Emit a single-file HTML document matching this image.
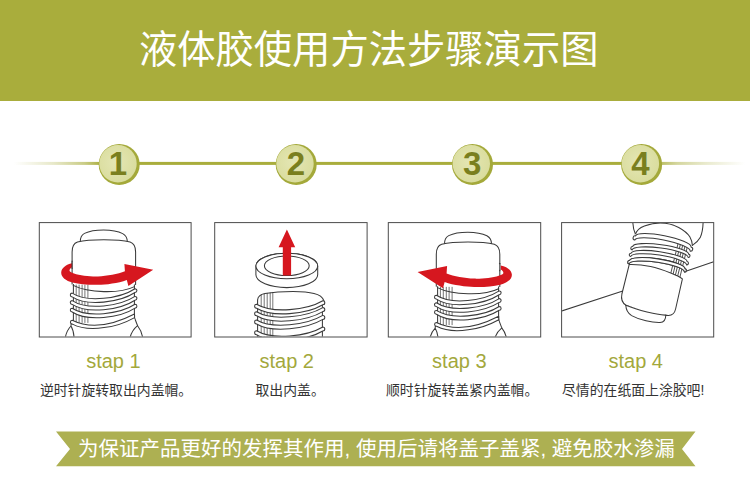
<!DOCTYPE html>
<html lang="zh-CN">
<head>
<meta charset="utf-8">
<title>液体胶使用方法步骤演示图</title>
<style>
html,body{margin:0;padding:0;background:#fff;}
body{width:750px;height:491px;overflow:hidden;font-family:"Liberation Sans",sans-serif;}
#page{position:relative;width:750px;height:491px;overflow:hidden;background:#fff;}
.band{position:absolute;left:0;top:0;width:750px;height:100.5px;background:#a9ad3c;}
.t{position:absolute;margin:0;padding:0;color:transparent;white-space:nowrap;font-weight:normal;line-height:1;overflow:hidden;}
svg.art{position:absolute;left:0;top:0;width:750px;height:491px;display:block;}
.ln{fill:none;stroke:#3a3a3a;stroke-width:1.05;stroke-linejoin:round;stroke-linecap:round;}
svg.art text{font-family:"Liberation Sans","Noto Sans CJK SC",sans-serif;}
</style>
</head>
<body>
<div id="page">
<header class="band"></header>

<svg class="art" viewBox="0 0 750 491" width="750" height="491">
<defs>
<linearGradient id="gl" x1="0" x2="1" y1="0" y2="0"><stop offset="0" stop-color="#a9ad3c" stop-opacity="0"/><stop offset="0.45" stop-color="#a9ad3c" stop-opacity="0.28"/><stop offset="0.8" stop-color="#a9ad3c" stop-opacity="0.62"/><stop offset="1" stop-color="#a9ad3c" stop-opacity="1"/></linearGradient>
<linearGradient id="gr" x1="0" x2="1" y1="0" y2="0"><stop offset="0" stop-color="#a9ad3c" stop-opacity="0.8"/><stop offset="0.2" stop-color="#a9ad3c" stop-opacity="0.5"/><stop offset="0.55" stop-color="#a9ad3c" stop-opacity="0.25"/><stop offset="1" stop-color="#a9ad3c" stop-opacity="0"/></linearGradient>
<radialGradient id="gc" cx="0.45" cy="0.45" r="0.6"><stop offset="0" stop-color="#e4e6b4"/><stop offset="1" stop-color="#d9dc9c"/></radialGradient>
<clipPath id="c1"><rect x="39.8" y="223" width="151" height="113.6"/></clipPath>
<clipPath id="c2"><rect x="215.2" y="223" width="151.4" height="113.6"/></clipPath>
<clipPath id="c3"><rect x="388.8" y="223" width="151.4" height="113.6"/></clipPath>
<clipPath id="c4"><rect x="562.1" y="223" width="151.2" height="113.6"/></clipPath>
</defs>
<text x="368.7" y="62.5" font-size="38.3" fill="#fff" text-anchor="middle">液体胶使用方法步骤演示图</text>
<rect x="14" y="161.9" width="88" height="3" fill="url(#gl)"/>
<rect x="100" y="161.9" width="560" height="3" fill="#a9ad3c"/>
<rect x="660" y="161.9" width="85" height="3" fill="url(#gr)"/>
<circle cx="119.2" cy="164.4" r="20.5" fill="#a4a93a"/>
<circle cx="118" cy="163.7" r="18.7" fill="url(#gc)"/>
<text x="118" y="175.1" font-size="33" font-weight="bold" fill="#7a7f1e" text-anchor="middle">1</text>
<circle cx="296.2" cy="164.4" r="20.5" fill="#a4a93a"/>
<circle cx="295" cy="163.7" r="18.7" fill="url(#gc)"/>
<text x="296" y="175.1" font-size="33" font-weight="bold" fill="#7a7f1e" text-anchor="middle">2</text>
<circle cx="472.5" cy="164.4" r="20.5" fill="#a4a93a"/>
<circle cx="471.3" cy="163.7" r="18.7" fill="url(#gc)"/>
<text x="472.3" y="175.1" font-size="33" font-weight="bold" fill="#7a7f1e" text-anchor="middle">3</text>
<circle cx="641.6" cy="164.4" r="20.5" fill="#a4a93a"/>
<circle cx="640.4" cy="163.7" r="18.7" fill="url(#gc)"/>
<text x="640.4" y="175.1" font-size="33" font-weight="bold" fill="#7a7f1e" text-anchor="middle">4</text>
<g class="ln">
<g clip-path="url(#c1)"><g transform="translate(0,0)">
<path d="M71.6,323 C71.2,324 70.9,325 71,326 C68.4,328.6 66.2,332.6 65.2,338 M71,326 C72.8,329 73.8,333 74.1,338 M134.5,317.6 C135.6,320.6 136.6,323.4 137.6,325.7 C140.2,329 142,333 142.8,338 M137.6,325.7 C134,328.6 131.2,332.6 130,338"/>
<path d="M73.4,283 L73.4,326 L134.4,320 L134.4,283 Z" fill="#fff" stroke="none"/>
<path d="M73.4,283 L73.4,324 M134.4,283 L134.4,318"/>
<path d="M76.2,285 V322.5 M79.1,285 V322.5 M82.1,285 V322.5 M84.9,285 V322.5 M87.9,285 V322.5 " stroke-width="0.7"/>
<path d="M73.2,285.4 C87.89,292.87 119.71,294.07 134.4,286.6"/>
<path d="M72.2,293.1 C87.27,302.97 119.93,298.57 135,288.7 A1.9,1.9 0 0 1 135,292.5 C119.93,302.37 87.27,306.77 72.2,296.9 A1.9,1.9 0 0 1 72.2,293.1 Z" fill="#fff"/>
<path d="M72.2,300.6 C87.27,310.47 119.93,306.27 135,296.4 A1.9,1.9 0 0 1 135,300.2 C119.93,310.07 87.27,314.27 72.2,304.4 A1.9,1.9 0 0 1 72.2,300.6 Z" fill="#fff"/>
<path d="M72.2,308.2 C87.27,318.07 119.93,314.17 135,304.3 A1.9,1.9 0 0 1 135,308.1 C119.93,317.97 87.27,321.87 72.2,312 A1.9,1.9 0 0 1 72.2,308.2 Z" fill="#fff"/>
<path d="M72.2,320.3 C90,329 112,325.6 134.5,314 L134.6,317.6 C122,324.6 110,327 104,327.6 C92,329.4 80,328 72.4,324.1 A1.9,1.9 0 0 1 72.2,320.3 Z" fill="#fff"/>
<path d="M80.3,241.6 C80.3,237.5 81.5,235 84.5,233.4 C89,231.2 96,230 103.6,230 C111.2,230 118.2,231.3 122.7,233.6 C125.9,235.4 127.3,237.8 127.3,241.6" fill="#fff"/>
<path d="M72.1,284 L72.1,252 C72.1,246.5 73.6,243.4 77.5,242.1 C85,240.2 95,239.8 103.8,239.8 C112.6,239.8 122.6,240.2 130.1,242.1 C134,243.4 135.6,246.5 135.6,252 L135.6,284.4" fill="#fff"/>
<path d="M72.1,263.3 C66,264.6 61.4,268 61.2,272.4 C61,277.2 66,280.6 72.4,282.5 C80,284.6 89,285 98,284.8 C106,284.6 118,283.2 126.8,279.9 L128.4,286 L153.2,269.7 L124.4,263.9 L124.9,271.3 C118,274 107,276.2 98,276.4 C90,276.6 80,275.6 74,273.5 C71.2,272.5 69.4,271.6 69.5,270.6 C69.6,269.2 70.6,268 72.1,267.3 Z" fill="#d6171f" stroke="none"/>
<path d="M72.6,262 H80 V270.2 C77,269.6 74,268.6 72.6,267.4 Z" fill="#fff" stroke="none"/>
<path d="M72.1,261 V268.5"/>
</g></g>
<g clip-path="url(#c2)"><path d="M257.6,300 V338 M322.4,300 V338"/>
<path d="M257.6,306 V300 C257.8,296.5 260,294.6 265,293.6 C274,292 284,291.5 293,291.5 C301,291.6 309,292.2 314,293.4 C319,294.6 322.6,297 323.8,300.5 L324.4,304" fill="#fff"/>
<path d="M261.2,294.8 V338 M264.2,293.9 V338 M267.2,293.3 V338 M270.2,292.9 V338 M272.8,292.6 V338 " stroke-width="0.7"/>
<path d="M256.6,304.2 C272.49,313.67 306.91,310.27 322.8,300.8 A2,2 0 0 1 322.8,304.8 C306.91,314.27 272.49,317.67 256.6,308.2 A2,2 0 0 1 256.6,304.2 Z" fill="#fff"/>
<path d="M256.6,311.8 C272.49,321.27 306.91,317.07 322.8,307.6 A2,2 0 0 1 322.8,311.6 C306.91,321.07 272.49,325.27 256.6,315.8 A2,2 0 0 1 256.6,311.8 Z" fill="#fff"/>
<path d="M256.6,320 C272.49,329.47 306.91,324.87 322.8,315.4 A2,2 0 0 1 322.8,319.4 C306.91,328.87 272.49,333.47 256.6,324 A2,2 0 0 1 256.6,320 Z" fill="#fff"/>
<path d="M256.6,330.8 C272.49,340.27 306.91,336.47 322.8,327 A2,2 0 0 1 322.8,331 C306.91,340.47 272.49,344.27 256.6,334.8 A2,2 0 0 1 256.6,330.8 Z" fill="#fff"/>
<path d="M255.9,266 A30.9,12.8 0 0 1 317.7,266 V274.8 A30.9,12.8 0 0 1 255.9,274.8 Z" fill="#fff"/>
<ellipse cx="286.8" cy="266" rx="30.9" ry="12.8" fill="#fff"/>
<ellipse cx="286.8" cy="265.8" rx="22.4" ry="9.8" fill="#fff"/>
<path d="M282.8,275.4 V247.3 H278.6 L286.9,229.6 L295.2,247.3 H291.1 V275.4 A22.4,9.8 0 0 1 282.8,275.4 Z" fill="#d6171f" stroke="none"/></g>
<g clip-path="url(#c3)"><g transform="translate(364.2,2.2)">
<path d="M71.6,323 C71.2,324 70.9,325 71,326 C68.4,328.6 66.2,332.6 65.2,338 M71,326 C72.8,329 73.8,333 74.1,338 M134.5,317.6 C135.6,320.6 136.6,323.4 137.6,325.7 C140.2,329 142,333 142.8,338 M137.6,325.7 C134,328.6 131.2,332.6 130,338"/>
<path d="M73.4,283 L73.4,326 L134.4,320 L134.4,283 Z" fill="#fff" stroke="none"/>
<path d="M73.4,283 L73.4,324 M134.4,283 L134.4,318"/>
<path d="M76.2,285 V322.5 M79.1,285 V322.5 M82.1,285 V322.5 M84.9,285 V322.5 M87.9,285 V322.5 " stroke-width="0.7"/>
<path d="M73.2,285.4 C87.89,292.87 119.71,294.07 134.4,286.6"/>
<path d="M72.2,293.1 C87.27,302.97 119.93,298.57 135,288.7 A1.9,1.9 0 0 1 135,292.5 C119.93,302.37 87.27,306.77 72.2,296.9 A1.9,1.9 0 0 1 72.2,293.1 Z" fill="#fff"/>
<path d="M72.2,300.6 C87.27,310.47 119.93,306.27 135,296.4 A1.9,1.9 0 0 1 135,300.2 C119.93,310.07 87.27,314.27 72.2,304.4 A1.9,1.9 0 0 1 72.2,300.6 Z" fill="#fff"/>
<path d="M72.2,308.2 C87.27,318.07 119.93,314.17 135,304.3 A1.9,1.9 0 0 1 135,308.1 C119.93,317.97 87.27,321.87 72.2,312 A1.9,1.9 0 0 1 72.2,308.2 Z" fill="#fff"/>
<path d="M72.2,320.3 C90,329 112,325.6 134.5,314 L134.6,317.6 C122,324.6 110,327 104,327.6 C92,329.4 80,328 72.4,324.1 A1.9,1.9 0 0 1 72.2,320.3 Z" fill="#fff"/>
<path d="M80.3,241.6 C80.3,237.5 81.5,235 84.5,233.4 C89,231.2 96,230 103.6,230 C111.2,230 118.2,231.3 122.7,233.6 C125.9,235.4 127.3,237.8 127.3,241.6" fill="#fff"/>
<path d="M72.1,284 L72.1,252 C72.1,246.5 73.6,243.4 77.5,242.1 C85,240.2 95,239.8 103.8,239.8 C112.6,239.8 122.6,240.2 130.1,242.1 C134,243.4 135.6,246.5 135.6,252 L135.6,284.4" fill="#fff"/>
<g transform="translate(210.4,0) scale(-1.025,1)">
<path d="M72.1,263.3 C66,264.6 61.4,268 61.2,272.4 C61,277.2 66,280.6 72.4,282.5 C80,284.6 89,285 98,284.8 C106,284.6 118,283.2 126.8,279.9 L128.4,286 L153.2,269.7 L124.4,263.9 L124.9,271.3 C118,274 107,276.2 98,276.4 C90,276.6 80,275.6 74,273.5 C71.2,272.5 69.4,271.6 69.5,270.6 C69.6,269.2 70.6,268 72.1,267.3 Z" fill="#d6171f" stroke="none"/>
<path d="M72.6,262 H80 V270.2 C77,269.6 74,268.6 72.6,267.4 Z" fill="#fff" stroke="none"/>
</g>
<path d="M135.6,261 V268.5"/>
</g></g>
<g clip-path="url(#c4)"><path d="M561.6,311 L622.8,291 M686.6,270.9 L713.7,261.8"/>
<path d="M632.8,222 C633,227 634,231 635.3,233.8 M703.1,222 C703,229 702,233.6 700.2,237.6 C698.6,240.6 696,243 692.4,245.4"/>
<path d="M635.3,234.6 C636.6,230.4 640,227.6 644.4,226 C650,224 656,223 660.3,223 C667,223 673.6,224.8 678.7,227.5 C684,230.4 688,234 689.8,236.8 C691.4,239.6 692.2,242 692.4,245.4" fill="#fff"/>
<path d="M635.3,234 L629,264 L683,278 L692.4,246 Z" fill="#fff" stroke="none"/>
<path d="M678.2,243 L668.4,283 M680.5,243.9 L670.7,283.9 M682.8,244.8 L673,284.8 M685.1,245.7 L675.3,285.7 M687.4,246.6 L677.6,286.6 " stroke-width="0.9"/>
<path d="M635.62,235.89 A28.24,5.8 11.23 0 1 691.02,246.89 A2.15,2.15 0 0 1 690.18,251.11 A28.24,5.8 11.23 0 0 634.78,240.11 A2.15,2.15 0 0 1 635.62,235.89 Z" fill="#fff"/>
<path d="M632.63,246.52 A28.26,5.8 7.73 0 1 688.63,254.12 A1.7,1.7 0 0 1 688.17,257.48 A28.26,5.8 7.73 0 0 632.17,249.88 A1.7,1.7 0 0 1 632.63,246.52 Z" fill="#fff"/>
<path d="M631.15,253.22 A28.26,5.8 8.45 0 1 687.05,261.52 A1.7,1.7 0 0 1 686.55,264.88 A28.26,5.8 8.45 0 0 630.65,256.58 A1.7,1.7 0 0 1 631.15,253.22 Z" fill="#fff"/>
<path d="M629.65,260.52 A27.95,5.8 8.43 0 1 684.95,268.72 A1.7,1.7 0 0 1 684.45,272.08 A27.95,5.8 8.43 0 0 629.15,263.88 A1.7,1.7 0 0 1 629.65,260.52 Z" fill="#fff"/>
<path d="M629.2,264.6 L621.9,294 C620.8,299 621.8,302.6 626,305.2 C638,310.4 656,314.6 668,315.4 C672.6,315.6 674.6,313.6 675.6,309 L682.4,278.8 C680,277 676,275 671.3,273.2 C665,270.8 657,268 650.6,266.6 C643,265 636,264.4 629.2,264.6 Z" fill="#fff"/>
<path d="M629.65,260.52 A27.95,5.8 8.43 0 1 684.95,268.72 A1.7,1.7 0 0 1 684.45,272.08 A27.95,5.8 8.43 0 0 629.15,263.88 A1.7,1.7 0 0 1 629.65,260.52 Z" fill="#fff"/>
<path d="M625.8,305.2 C626,310 627.6,313 631.6,315.6 C640,320.2 652,322.6 660,322.4 C664.4,322.2 665.8,319.4 665.8,314.9" fill="#fff"/>
<path d="M626,305.2 C638,310.4 656,314.6 668,315.4" /></g>
</g>
<rect x="39.3" y="222.6" width="151.8" height="114.4" fill="none" stroke="#4c4c4c" stroke-width="1"/>
<rect x="214.7" y="222.6" width="152.4" height="114.4" fill="none" stroke="#4c4c4c" stroke-width="1"/>
<rect x="388.3" y="222.6" width="152.4" height="114.4" fill="none" stroke="#4c4c4c" stroke-width="1"/>
<rect x="561.6" y="222.6" width="152.1" height="114.4" fill="none" stroke="#4c4c4c" stroke-width="1"/>
<text x="86.2" y="368.4" font-size="20" fill="#a3a83c">stap 1</text>
<text x="259.5" y="368.4" font-size="20" fill="#a3a83c">stap 2</text>
<text x="432.1" y="368.4" font-size="20" fill="#a3a83c">stap 3</text>
<text x="608.5" y="368.4" font-size="20" fill="#a3a83c">stap 4</text>
<text x="39.9" y="394.9" font-size="13.85" fill="#333">逆时针旋转取出内盖帽。</text>
<text x="255.5" y="394.9" font-size="13.85" fill="#333">取出内盖。</text>
<text x="386" y="394.9" font-size="13.85" fill="#333">顺时针旋转盖紧内盖帽。</text>
<text x="562" y="394.9" font-size="13.85" fill="#333">尽情的在纸面上涂胶吧!</text>
<path d="M56,431.6 H695.5 L682,449 L695.5,466.3 H56 L70,449 Z" fill="#adb052"/>
<text x="78" y="455.5" font-size="20.5" fill="#fff">为保证产品更好的发挥其作用, 使用后请将盖子盖紧, 避免胶水渗漏</text>
</svg>
<h1 class="t" style="left:138px;top:28px;width:462px;height:42px;font-size:38.5px">液体胶使用方法步骤演示图</h1>
<div class="t" style="left:108.9px;top:148px;width:20px;height:32px;font-size:30px">1</div>
<div class="t" style="left:285.9px;top:148px;width:20px;height:32px;font-size:30px">2</div>
<div class="t" style="left:462.2px;top:148px;width:20px;height:32px;font-size:30px">3</div>
<div class="t" style="left:631.3px;top:148px;width:20px;height:32px;font-size:30px">4</div>
<h2 class="t" style="left:86.7px;top:351px;width:56px;height:24px;font-size:20px">stap 1</h2>
<h2 class="t" style="left:260px;top:351px;width:56px;height:24px;font-size:20px">stap 2</h2>
<h2 class="t" style="left:432.6px;top:351px;width:56px;height:24px;font-size:20px">stap 3</h2>
<h2 class="t" style="left:609px;top:351px;width:56px;height:24px;font-size:20px">stap 4</h2>
<p class="t" style="left:39.9px;top:381px;width:152.35px;height:17px;font-size:13.85px">逆时针旋转取出内盖帽。</p>
<p class="t" style="left:255.5px;top:381px;width:69.25px;height:17px;font-size:13.85px">取出内盖。</p>
<p class="t" style="left:386px;top:381px;width:152.35px;height:17px;font-size:13.85px">顺时针旋转盖紧内盖帽。</p>
<p class="t" style="left:562px;top:381px;width:152.35px;height:17px;font-size:13.85px">尽情的在纸面上涂胶吧!</p>
<p class="t" style="left:78px;top:436px;width:596px;height:26px;font-size:20.5px">为保证产品更好的发挥其作用, 使用后请将盖子盖紧, 避免胶水渗漏</p>
</div>
</body>
</html>
